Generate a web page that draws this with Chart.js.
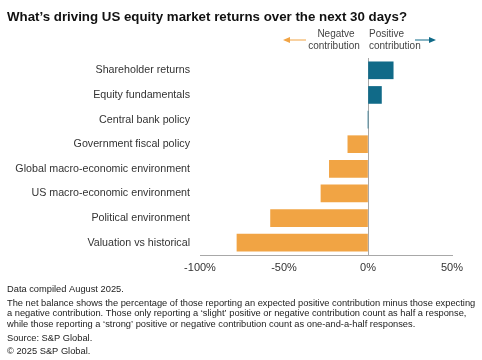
<!DOCTYPE html>
<html>
<head>
<meta charset="utf-8">
<script src="https://cdn.jsdelivr.net/npm/chart.js@4"></script>
<style>
html,body{margin:0;padding:0;background:#fff;}
#wrap{position:relative;width:482px;height:360px;}
</style>
</head>
<body>
<div id="wrap"><canvas id="c" width="482" height="360"></canvas></div>
<script>
const categories = [
  "Shareholder returns",
  "Equity fundamentals",
  "Central bank policy",
  "Government fiscal policy",
  "Global macro-economic environment",
  "US macro-economic environment",
  "Political environment",
  "Valuation vs historical"
];
const netBalance = [15, 8, 0, -12, -23, -28, -58, -78];
const xTicks = [-100, -50, 0, 50];
const titleText = "What\u2019s driving US equity market returns over the next 30 days?";
const footerLines = [
  "Data compiled August 2025.",
  "The net balance shows the percentage of those reporting an expected positive contribution minus those expecting",
  "a negative contribution. Those only reporting a \u2018slight\u2019 positive or negative contribution count as half a response,",
  "while those reporting a \u2018strong\u2019 positive or negative contribution count as one-and-a-half responses.",
  "Source: S&P Global.",
  "\u00a9 2025 S&P Global."
];
const BLUE = "#106a88";
const ORANGE = "#f1a444";
const FONT = "'Liberation Sans', Arial, sans-serif";

const decor = {
  id: "decor",
  afterDraw(chart) {
    const ctx = chart.ctx;
    ctx.save();
    // title
    ctx.fillStyle = "#111";
    ctx.font = "bold 13.3px " + FONT;
    ctx.textBaseline = "middle";
    ctx.textAlign = "left";
    ctx.fillText(titleText, 7, 17);
    // direction annotations
    ctx.font = "10px " + FONT;
    ctx.fillStyle = "#444";
    ctx.textAlign = "center";
    ctx.fillText("Negatve", 336, 34);
    ctx.fillText("contribution", 334, 46);
    ctx.textAlign = "left";
    ctx.fillText("Positive", 369, 34);
    ctx.fillText("contribution", 369, 46);
    // arrows
    ctx.lineWidth = 1;
    ctx.strokeStyle = ORANGE; ctx.fillStyle = ORANGE;
    ctx.beginPath(); ctx.moveTo(306, 40); ctx.lineTo(289, 40); ctx.stroke();
    ctx.beginPath(); ctx.moveTo(283, 40); ctx.lineTo(290, 37); ctx.lineTo(290, 43); ctx.closePath(); ctx.fill();
    ctx.strokeStyle = BLUE; ctx.fillStyle = BLUE;
    ctx.beginPath(); ctx.moveTo(415, 40); ctx.lineTo(430, 40); ctx.stroke();
    ctx.beginPath(); ctx.moveTo(436, 40); ctx.lineTo(429, 37); ctx.lineTo(429, 43); ctx.closePath(); ctx.fill();
    // footer
    ctx.font = "9.3px " + FONT;
    ctx.fillStyle = "#222";
    ctx.textAlign = "left";
    const ys = [289, 303, 313.5, 324, 338, 351];
    footerLines.forEach((t, i) => ctx.fillText(t, 7, ys[i]));
    ctx.restore();
  }
};

new Chart(document.getElementById("c"), {
  type: "bar",
  data: {
    labels: categories,
    datasets: [{
      data: netBalance,
      backgroundColor: netBalance.map(v => v >= 0 ? BLUE : ORANGE),
      barThickness: 17,
      borderWidth: 0
    }]
  },
  options: {
    indexAxis: "y",
    responsive: false,
    animation: false,
    devicePixelRatio: 1,
    layout: { padding: { top: 58, right: 30, left: 0, bottom: 0 } },
    plugins: { legend: { display: false }, tooltip: { enabled: false } },
    scales: {
      x: {
        min: -100, max: 50,
        afterBuildTicks: s => { s.ticks = xTicks.map(v => ({ value: v })); },
        afterFit: s => { s.height = 105; },
        ticks: {
          callback: v => v + "%",
          color: "#333",
          font: { family: FONT, size: 11 },
          padding: 6,
          maxRotation: 0
        },
        grid: {
          drawTicks: false,
          color: c => (c.tick && c.tick.value === 0) ? "#a8a8a8" : "rgba(0,0,0,0)",
          lineWidth: 1
        },
        border: { display: true, color: "#a8a8a8", width: 1 }
      },
      y: {
        afterFit: s => { s.width = 200; },
        ticks: {
          color: "#333",
          font: { family: FONT, size: 10.7 },
          padding: 10
        },
        grid: { display: false, drawTicks: false },
        border: { display: false }
      }
    }
  },
  plugins: [decor]
});
</script>
</body>
</html>
